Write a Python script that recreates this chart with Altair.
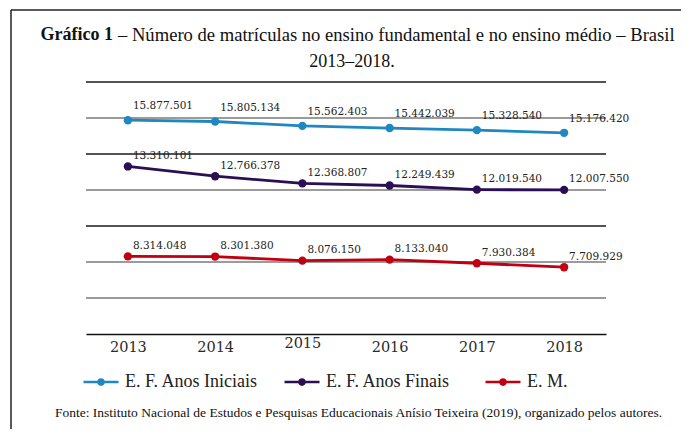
import altair as alt
import pandas as pd

years = ["2013", "2014", "2015", "2016", "2017", "2018"]
series_names = ["E. F. Anos Iniciais", "E. F. Anos Finais", "E. M."]
anos_iniciais = [15877501, 15805134, 15562403, 15442039, 15328540, 15176420]
anos_finais = [13310101, 12766378, 12368807, 12249439, 12019540, 12007550]
ensino_medio = [8314048, 8301380, 8076150, 8133040, 7930384, 7709929]
colors = ["#1E88C0", "#2B0F55", "#C00010"]
y_ticks = [6e6, 8e6, 10e6, 12e6, 14e6, 16e6, 18e6]

title_bold = "Gráfico 1"
title_rest = "– Número de matrículas no ensino fundamental e no ensino médio – Brasil"
title_line2 = "2013–2018."
source_text = ("Fonte: Instituto Nacional de Estudos e Pesquisas Educacionais "
               "Anísio Teixeira (2019), organizado pelos autores.")

rows = []
for name, vals in zip(series_names, [anos_iniciais, anos_finais, ensino_medio]):
    for yr, v in zip(years, vals):
        rows.append({"ano": yr, "serie": name, "valor": v,
                     "rotulo": f"{v:,}".replace(",", ".")})
df = pd.DataFrame(rows)
grid_df = pd.DataFrame({"v": y_ticks})

W, H = 520, 252
serif = "Liberation Serif"
label_font = "DejaVu Serif"

y_scale = alt.Scale(domain=[4e6, 18e6], nice=False, zero=False)

x_enc = alt.X("ano:O", scale=alt.Scale(type="point", padding=0.48),
              axis=alt.Axis(title=None, ticks=False, labelAngle=0,
                            labelFont=label_font, labelFontSize=14.5,
                            labelColor="#2a2a2a",
                            labelPadding={"condition": {"test": "datum.value == '2015'", "value": 2}, "value": 6},
                            domainColor="#111", domainWidth=1.5, grid=False))
y_enc = alt.Y("valor:Q", scale=y_scale, axis=None)

color_enc = alt.Color("serie:N", scale=alt.Scale(domain=series_names, range=colors),
                      legend=alt.Legend(title=None, orient="none", direction="horizontal",
                                        legendX=-4, legendY=281,
                                        symbolType="M-1,0L1,0M-0.15,0A0.15,0.15 0 1,0 0.15,0A0.15,0.15 0 1,0 -0.15,0",
                                        symbolSize=1225, symbolStrokeWidth=2.5,
                                        labelFont=serif, labelFontSize=18, labelColor="#222",
                                        labelOffset=5, columnPadding=20, gridAlign="all",
                                        labelLimit=300))

grid = alt.Chart(grid_df).mark_rule(strokeWidth=1.5).encode(
    y=alt.Y("v:Q", scale=y_scale, axis=None),
    color=alt.condition("datum.v == 18000000 || datum.v == 14000000 || datum.v == 10000000",
                        alt.value("#1a1a1a"), alt.value("#7a7a7a")))

base = alt.Chart(df)
lines = base.mark_line(strokeWidth=2.8).encode(x=x_enc, y=y_enc, color=color_enc)
points = base.mark_point(filled=True, size=70, opacity=1).encode(
    x="ano:O", y="valor:Q", color="serie:N")

text_layers = []
for name, dy in zip(series_names, [-14, -10.5, -10.5]):
    text_layers.append(
        base.transform_filter(alt.datum.serie == name).mark_text(
            align="left", baseline="middle", dx=5, dy=dy,
            font=label_font, fontSize=10.5, color="#222").encode(
            x="ano:O", y="valor:Q", text="rotulo:N"))

one = pd.DataFrame({"k": [0]})
t_bold = alt.Chart(one).mark_text(align="right", baseline="middle", font=serif,
                                  fontSize=18, fontWeight="bold", color="#111").encode(
    x=alt.value(27), y=alt.value(-47), text=alt.value(title_bold))
t_rest = alt.Chart(one).mark_text(align="left", baseline="middle", font=serif,
                                  fontSize=18.6, color="#111").encode(
    x=alt.value(32), y=alt.value(-47), text=alt.value(title_rest))
t_line2 = alt.Chart(one).mark_text(align="center", baseline="middle", font=serif,
                                   fontSize=18, color="#111").encode(
    x=alt.value(266), y=alt.value(-20), text=alt.value(title_line2))
t_source = alt.Chart(one).mark_text(align="center", baseline="middle", font=serif,
                                    fontSize=13.5, color="#111").encode(
    x=alt.value(272.5), y=alt.value(331), text=alt.value(source_text))
frame_left = alt.Chart(one).mark_rule(color="#222", strokeWidth=1.5).encode(
    x=alt.value(-75), y=alt.value(-72), y2=alt.value(400))
frame_top = alt.Chart(one).mark_rule(color="#222", strokeWidth=1.5).encode(
    x=alt.value(-75), x2=alt.value(620), y=alt.value(-72))

chart = alt.layer(grid, lines, points, *text_layers, t_bold, t_rest, t_line2, t_source,
                  frame_left, frame_top).properties(
    width=W, height=H,
    autosize=alt.AutoSizeParams(type="none"),
    padding={"left": 78, "top": 74, "right": 75, "bottom": 95},
    background="white",
).configure_view(stroke=None)

chart.save("out.html", embed_options={"renderer": "svg", "actions": False})
